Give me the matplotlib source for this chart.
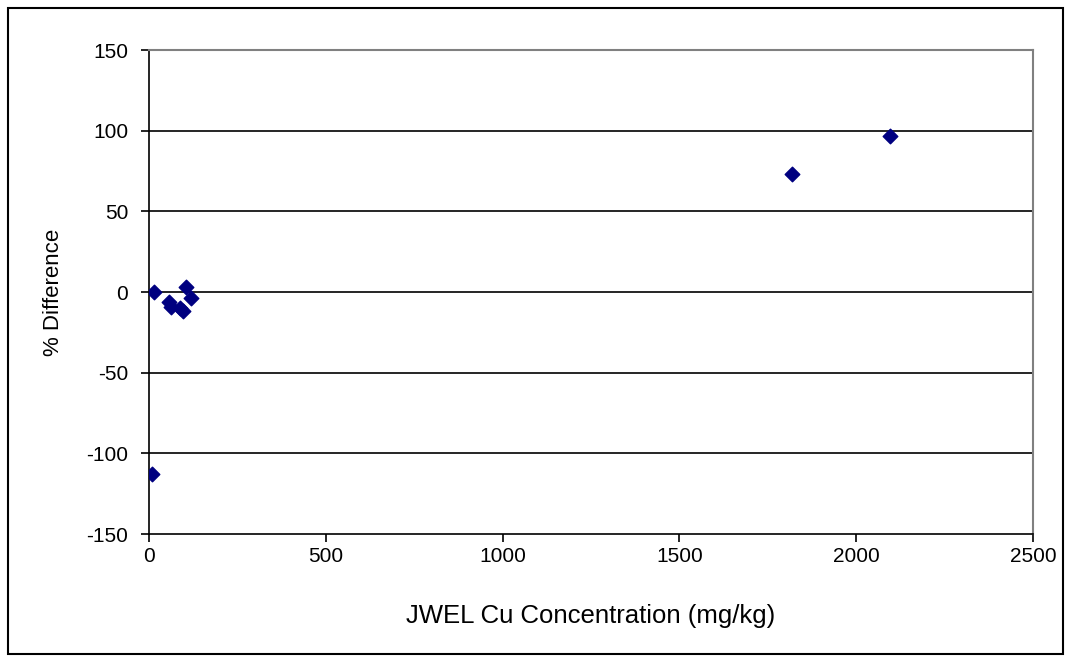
import matplotlib
matplotlib.use("Agg")
import matplotlib.pyplot as plt
from matplotlib.patches import Rectangle

plt.rcParams['font.family'] = ['Liberation Sans', 'DejaVu Sans']
plt.rcParams['axes.unicode_minus'] = False

# JWEL Cu concentration (mg/kg) vs % difference
cu_conc = [14, 9, 57, 62, 88, 95, 105, 118, 1818, 2096]
pct_diff = [0, -113, -6, -9, -10, -12, 3, -4, 73, 97]

x_ticks = [0, 500, 1000, 1500, 2000, 2500]
y_ticks = [-150, -100, -50, 0, 50, 100, 150]

fig = plt.figure(figsize=(10.71, 6.62), dpi=100)
fig.patches.append(Rectangle((8 / 1071, 8 / 662), 1055 / 1071, 646 / 662,
                             transform=fig.transFigure, fill=False,
                             edgecolor='black', linewidth=1.5))
ax = fig.add_axes([149 / 1071, 128 / 662, 884 / 1071, 484 / 662])

for y in y_ticks[1:-1]:
    ax.axhline(y, color='black', linewidth=1.2, zorder=1)

ax.scatter(cu_conc, pct_diff, marker='D', s=55, color='#000080',
           edgecolors='#000080', zorder=3)

ax.set_xlim(0, 2500)
ax.set_ylim(-150, 150)
ax.set_xticks(x_ticks)
ax.set_yticks(y_ticks)

for side in ['top', 'right']:
    ax.spines[side].set_color('#808080')
    ax.spines[side].set_linewidth(1.5)
for side in ['left', 'bottom']:
    ax.spines[side].set_color('black')
    ax.spines[side].set_linewidth(1.2)

ax.tick_params(direction='out', length=6, width=1.2, labelsize=15)
ax.tick_params(axis='x', pad=3)
ax.tick_params(axis='y', pad=9)
ax.set_xlabel("JWEL Cu Concentration (mg/kg)", fontsize=18.5, labelpad=28)
ax.set_ylabel("% Difference", fontsize=16, labelpad=16)

fig.savefig("out.png", dpi=100)
